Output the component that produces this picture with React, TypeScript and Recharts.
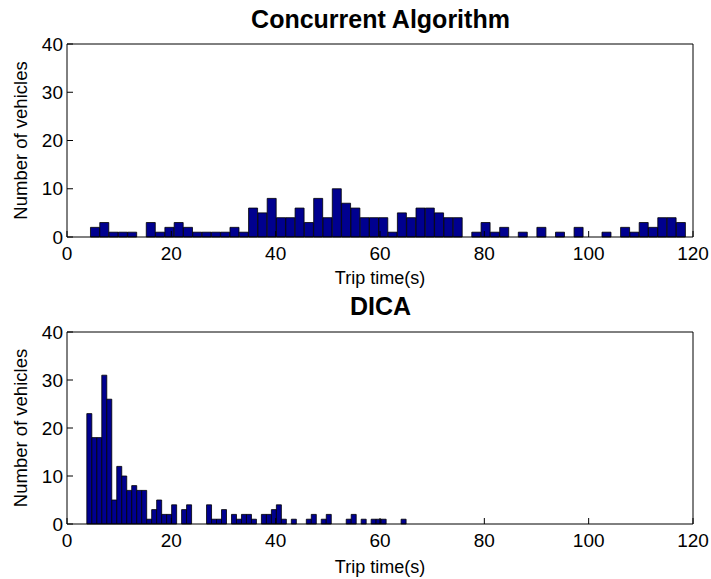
import React from "react";
import { ComposedChart, Bar, Line, XAxis, YAxis } from "recharts";

// histogram counts, 64 bins each
const concurrentCounts = [
  2, 3, 1, 1, 1, 0, 3, 1, 2, 3, 2, 1, 1, 1, 1, 2, 1, 6, 5, 8, 4, 4, 6, 3, 8, 4, 10, 7, 6, 4, 4, 4,
  1, 5, 4, 6, 6, 5, 4, 4, 0, 1, 3, 1, 2, 0, 1, 0, 2, 0, 1, 0, 2, 0, 0, 1, 0, 2, 1, 3, 2, 4, 4, 3,
];
const dicaCounts = [
  23, 18, 18, 31, 26, 5, 12, 10, 7, 8, 7, 7, 1, 3, 5, 2, 2, 4, 0, 3, 4, 0, 0, 0, 4, 1, 1, 3, 0, 2, 1, 2,
  2, 1, 0, 2, 2, 3, 4, 1, 0, 1, 0, 0, 1, 2, 0, 1, 2, 0, 0, 0, 1, 2, 0, 1, 0, 1, 1, 1, 0, 0, 0, 1,
];
// range of the data that hist() split into bins
const concurrentRange = [4.5, 118.6];
const dicaRange = [3.8, 65.0];

const xTicks = [0, 20, 40, 60, 80, 100, 120];
const yTicks = [0, 10, 20, 30, 40];

const FONT = '"Liberation Sans", Arial, Helvetica, sans-serif';
const BAR_FILL = "#00008F";

function toBins(counts: number[], range: number[]) {
  const w = (range[1] - range[0]) / counts.length;
  return counts.map((c, i) => ({ x: range[0] + w * (i + 0.5), count: c }));
}

function Panel({ data, top, height, marginTop, axisHeight }: any) {
  return (
    <div style={{ position: "absolute", left: 0, top }}>
      <ComposedChart
        width={711}
        height={height}
        data={data}
        margin={{ top: marginTop, right: 17, bottom: 0, left: 0 }}
        barCategoryGap={0}
        barGap={0}
      >
        <XAxis
          dataKey="x"
          type="number"
          domain={[0, 120]}
          ticks={xTicks}
          height={axisHeight}
          tickSize={-6}
          tickMargin={16}
          axisLine={{ stroke: "#000" }}
          tickLine={{ stroke: "#000" }}
          tick={{ fill: "#000", fontSize: 19 }}
          label={{ value: "Trip time(s)", position: "insideBottom", offset: 6, style: { fill: "#000", fontSize: 18 } }}
        />
        {/* box edges with inward ticks */}
        <XAxis
          xAxisId="top"
          dataKey="x"
          orientation="top"
          type="number"
          domain={[0, 120]}
          ticks={xTicks}
          height={1}
          tickSize={-6}
          tick={false}
          axisLine={{ stroke: "#000" }}
          tickLine={{ stroke: "#000" }}
        />
        <YAxis
          type="number"
          domain={[0, 40]}
          ticks={yTicks}
          width={67}
          tickSize={-6}
          tickMargin={10}
          axisLine={{ stroke: "#000" }}
          tickLine={{ stroke: "#000" }}
          tick={{ fill: "#000", fontSize: 19 }}
          label={{
            value: "Number of vehicles",
            angle: -90,
            position: "insideLeft",
            offset: 20,
            style: { textAnchor: "middle", fill: "#000", fontSize: 18.5 },
          }}
        />
        <YAxis
          yAxisId="right"
          orientation="right"
          type="number"
          domain={[0, 40]}
          ticks={yTicks}
          width={1}
          tickSize={-6}
          tick={false}
          axisLine={{ stroke: "#000" }}
          tickLine={{ stroke: "#000" }}
        />
        <Bar dataKey="count" fill={BAR_FILL} stroke="#000" strokeWidth={0.8} isAnimationActive={false} />
        <Line
          xAxisId="top"
          yAxisId="right"
          dataKey="count"
          stroke="none"
          dot={false}
          activeDot={false}
          isAnimationActive={false}
        />
      </ComposedChart>
    </div>
  );
}

const titleStyle: React.CSSProperties = {
  position: "absolute",
  left: 67,
  width: 627,
  textAlign: "center",
  fontFamily: FONT,
  fontWeight: "bold",
  fontSize: 25,
  lineHeight: "25px",
};

export default function App() {
  return (
    <div style={{ position: "absolute", left: 0, top: 0, width: 711, height: 579, background: "#fff", fontFamily: FONT }}>
      <Panel data={toBins(concurrentCounts, concurrentRange)} top={0} height={290} marginTop={43} axisHeight={53} />
      <Panel data={toBins(dicaCounts, dicaRange)} top={290} height={289} marginTop={41} axisHeight={55} />
      <div style={{ ...titleStyle, top: 7 }}>Concurrent Algorithm</div>
      <div style={{ ...titleStyle, top: 294 }}>DICA</div>
    </div>
  );
}
